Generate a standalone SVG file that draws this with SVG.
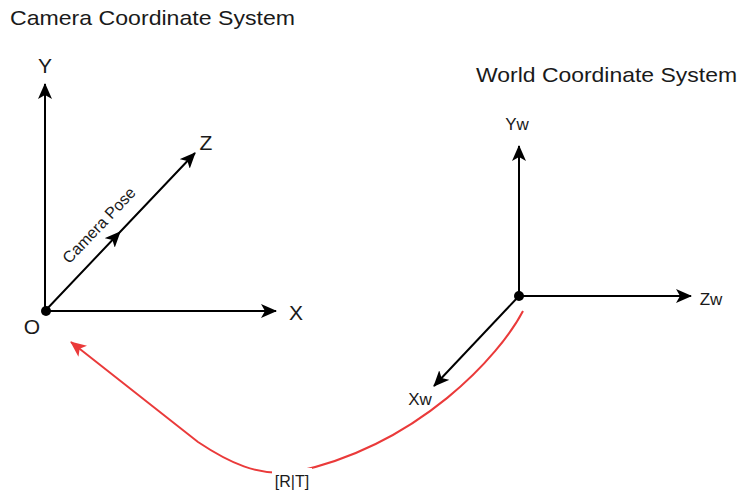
<svg xmlns="http://www.w3.org/2000/svg" width="741" height="495" viewBox="0 0 741 495">
<defs>
<style>
.t{font-family:"Liberation Sans",Arial,sans-serif;fill:#1a1a1a}
.ax{stroke:#000;stroke-width:2;fill:none}
.rd{stroke:#EA3A3A;stroke-width:2;fill:none}
</style>
<marker id="ab" viewBox="0 0 16 14" refX="15" refY="7" markerWidth="16" markerHeight="14" markerUnits="userSpaceOnUse" orient="auto">
<path d="M0,0 L16,7 L0,14 L4,7 Z" fill="#000"/>
</marker>
<marker id="ar" viewBox="0 0 16 14" refX="15" refY="7" markerWidth="16" markerHeight="14" markerUnits="userSpaceOnUse" orient="auto">
<path d="M0,0 L16,7 L0,14 L4,7 Z" fill="#EA3A3A"/>
</marker>
</defs>
<rect width="741" height="495" fill="#fff"/>
<g id="titles">
<text class="t" x="10" y="25" font-size="21" textLength="285" lengthAdjust="spacingAndGlyphs">Camera Coordinate System</text>
<text class="t" x="476" y="82" font-size="21" textLength="261" lengthAdjust="spacingAndGlyphs">World Coordinate System</text>
</g>
<g id="connectors">
<path class="ax" d="M45,311 L45,84" marker-end="url(#ab)"/>
<path class="ax" d="M45,311 L276,311" marker-end="url(#ab)"/>
<path class="ax" d="M45,311 L120,232 L195,153" marker-mid="url(#ab)" marker-end="url(#ab)"/>
<path class="ax" d="M519,296 L519,146" marker-end="url(#ab)"/>
<path class="ax" d="M519,296 L691,296" marker-end="url(#ab)"/>
<path class="ax" d="M519,296 L434,386" marker-end="url(#ab)"/>
<path class="rd" d="M523,311 C500,355 420,445 295,472 C258,477 228,462 198,442 L71,342" marker-end="url(#ar)"/>
</g>
<g id="camera-origin">
<circle cx="46" cy="311" r="5" fill="#000"/>
<text class="t" x="32" y="334" font-size="21" text-anchor="middle">O</text>
</g>
<g id="camera-labels">
<text class="t" x="45" y="73" font-size="21" text-anchor="middle">Y</text>
<text class="t" x="296" y="320" font-size="21" text-anchor="middle">X</text>
<text class="t" x="206" y="150" font-size="21" text-anchor="middle">Z</text>
<text class="t" x="0" y="0" font-size="16" text-anchor="middle" transform="translate(103,229) rotate(-46.5)">Camera Pose</text>
</g>
<g id="world-origin">
<circle cx="519" cy="296" r="5" fill="#000"/>
</g>
<g id="world-labels">
<text class="t" x="517" y="130" font-size="17" text-anchor="middle">Yw</text>
<text class="t" x="711" y="305" font-size="17" text-anchor="middle">Zw</text>
<text class="t" x="420" y="405" font-size="17" text-anchor="middle">Xw</text>
</g>
<g id="rt-label">
<rect x="272" y="468" width="40" height="22" fill="#fff"/>
<text class="t" x="292" y="487" font-size="16" text-anchor="middle">[R|T]</text>
</g>
</svg>
